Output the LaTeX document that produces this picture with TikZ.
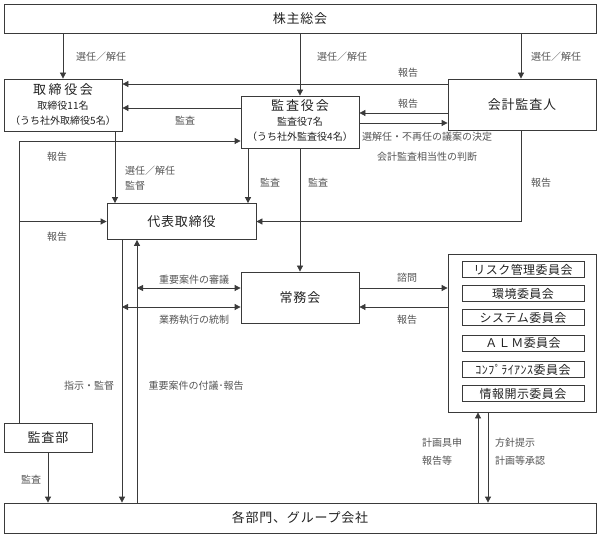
\documentclass[tikz,border=0pt]{standalone}
\usepackage{fontspec}
\setmainfont{Noto Sans CJK JP}
\usetikzlibrary{arrows.meta}
\definecolor{linec}{HTML}{3A3A3A}
\definecolor{titlec}{HTML}{222222}
\definecolor{labc}{HTML}{555555}
\begin{document}
\begin{tikzpicture}[x=1pt,y=-1pt,
  rect/.style 2 args={draw=linec,line width=0.8pt,inner sep=0pt,minimum width=#1,minimum height=#2},
  ttl/.style={font=\fontsize{13}{15}\selectfont\addfontfeature{LetterSpace=6},text=titlec,inner sep=0pt},
  sub/.style={font=\fontsize{10}{12}\selectfont,text=titlec,inner sep=0pt},
  lbl/.style={font=\fontsize{10}{12}\selectfont,text=labc,inner sep=0pt},
  ctl/.style={font=\fontsize{12}{14}\selectfont\addfontfeature{LetterSpace=4},text=titlec},
  arr/.style={draw=linec,line width=0.8pt,-{Triangle[length=6pt,width=6pt]}},
  darr/.style={draw=linec,line width=0.8pt,{Triangle[length=6pt,width=6pt]}-{Triangle[length=6pt,width=6pt]}}]
\useasboundingbox (0,0) rectangle (600,537);

% boxes
\node[rect={592}{29},ttl] (soukai) at (300,18.5) {株主総会};
\node[rect={118}{52}] (torishimari) at (63,105) {};
\node[ttl,font=\fontsize{13}{15}\selectfont\addfontfeature{LetterSpace=20}] (t1) at (63,90) {取締役会};
\node[sub] (t2) at (63,106) {取締役11名};
\node[sub] (t3) at (63,121) {（うち社外取締役5名）};
\node[rect={118}{52}] (kansayaku) at (300,122) {};
\node[ttl,font=\fontsize{13}{15}\selectfont\addfontfeature{LetterSpace=15}] (k1) at (300,106) {監査役会};
\node[sub] (k2) at (300,122) {監査役7名};
\node[sub] (k3) at (300,137) {（うち社外監査役4名）};
\node[rect={148}{51},ttl] (kaikei) at (522,104.5) {会計監査人};
\node[rect={149}{36},ttl] (daihyo) at (181.5,221.5) {代表取締役};
\node[rect={118}{51},ttl] (jomu) at (300,297.5) {常務会};
\node[rect={148}{158}] (iinkai) at (522,333) {};
\node[rect={122}{16},ctl] (c1) at (523,269.5) {リスク管理委員会};
\node[rect={122}{16},ctl] (c2) at (523,293.5) {環境委員会};
\node[rect={122}{16},ctl] (c3) at (523,317.5) {システム委員会};
\node[rect={122}{16},ctl] (c4) at (523,343) {Ａ\hspace{1pt}Ｌ\hspace{1pt}Ｍ委員会};
\node[rect={122}{16},ctl] (c5) at (523,369.5) {ｺﾝﾌﾟﾗｲｱﾝｽ委員会};
\node[rect={122}{16},ctl] (c6) at (523,393.5) {情報開示委員会};
\node[rect={88}{29},ttl] (kansabu) at (48,437.5) {監査部};
\node[rect={592}{30},ttl] (kakubu) at (300,518) {各部門、グループ会社};

% connectors
\draw[arr] (soukai.south -| torishimari) -- (torishimari.north);
\draw[arr] (soukai.south -| kansayaku) -- (kansayaku.north);
\draw[arr] (soukai.south -| 521,0) -- (kaikei.north -| 521,0);
\draw[arr] (kaikei.west |- 0,84) -- (torishimari.east |- 0,84);
\draw[arr] (kaikei.west |- 0,113) -- (kansayaku.east |- 0,113);
\draw[arr] (kansayaku.east |- 0,123) -- (kaikei.west |- 0,123);
\draw[arr] (kansayaku.west |- 0,108) -- (torishimari.east |- 0,108);
\draw[arr] (kansabu.north -| 19,0) |- (kansayaku.west |- 0,141);
\coordinate (lj) at (19,221.5);
\draw[arr] (lj) -- (daihyo.west);
\draw[arr] (kaikei.south -| 521,0) |- (daihyo.east);
\draw[arr] (torishimari.south -| 115,0) -- (daihyo.north -| 115,0);
\draw[arr] (kansayaku.south -| 248,0) -- (daihyo.north -| 248,0);
\draw[arr] (kansayaku.south) -- (jomu.north);
\draw[arr] (daihyo.south -| 122,0) -- (kakubu.north -| 122,0);
\draw[arr] (kakubu.north -| 137,0) -- (daihyo.south -| 137,0);
\coordinate (s1) at (137,288);
\coordinate (s2) at (122,307);
\draw[darr] (s1) -- (jomu.west |- s1);
\draw[darr] (s2) -- (jomu.west |- s2);
\draw[arr] (jomu.east |- s1) -- (iinkai.west |- s1);
\draw[arr] (iinkai.west |- s2) -- (jomu.east |- s2);
\draw[arr] (kakubu.north -| 478,0) -- (iinkai.south -| 478,0);
\draw[arr] (iinkai.south -| 488,0) -- (kakubu.north -| 488,0);
\draw[arr] (kansabu.south) -- (kakubu.north -| kansabu);

% labels
\node[lbl] (l1) at (101,57) {選任／解任};
\node[lbl] (l2) at (342,57) {選任／解任};
\node[lbl] (l3) at (556,57) {選任／解任};
\node[lbl] (l4) at (408,73) {報告};
\node[lbl] (l5) at (408,104) {報告};
\node[lbl] (l6) at (185,121) {監査};
\node[lbl,anchor=west] (l7) at (362,137) {選解任・不再任の議案の決定};
\node[lbl,anchor=west] (l8) at (377,157) {会計監査相当性の判断};
\node[lbl] (l9) at (57,157) {報告};
\node[lbl] (l10) at (57,237) {報告};
\node[lbl,anchor=west] (l11) at (125,171) {選任／解任};
\node[lbl,anchor=west] (l12) at (125,186) {監督};
\node[lbl] (l13) at (270,183) {監査};
\node[lbl] (l14) at (318,183) {監査};
\node[lbl] (l15) at (541,183) {報告};
\node[lbl] (l16) at (194,280) {重要案件の審議};
\node[lbl] (l17) at (194,320) {業務執行の統制};
\node[lbl] (l18) at (407,278) {諮問};
\node[lbl] (l19) at (407,320) {報告};
\node[lbl] (l20) at (89,386) {指示・監督};
\node[lbl] (l21) at (196,386) {重要案件の付議･報告};
\node[lbl] (l22) at (31,480) {監査};
\node[lbl,anchor=west] (l23) at (422,443) {計画具申};
\node[lbl,anchor=west] (l24) at (422,461) {報告等};
\node[lbl,anchor=west] (l25) at (495,443) {方針提示};
\node[lbl,anchor=west] (l26) at (495,461) {計画等承認};
\end{tikzpicture}
\end{document}
